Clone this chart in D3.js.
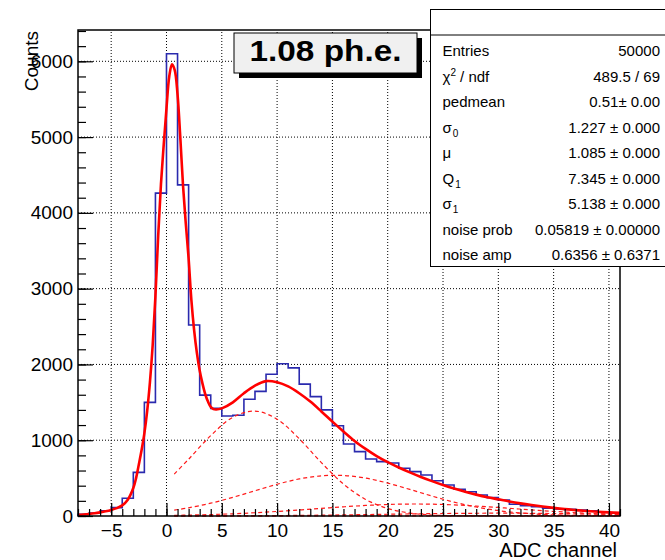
<!DOCTYPE html>
<html>
<head>
<meta charset="utf-8">
<script src="https://cdn.jsdelivr.net/npm/d3@7"></script>
<style>
  body { margin: 0; background: #fff; }
  svg { display: block; font-family: "Liberation Sans", Arial, Helvetica, sans-serif; }
</style>
</head>
<body>
<svg id="canvas" width="665" height="560"></svg>
<script>
var width = 665;
var height = 560;

// histogram: one count per unit bin, first bin starts at -8
var binStart = -8;
var counts = [22, 40, 70, 110, 235, 575, 1500, 4260, 6100, 4370,
              2520, 1595, 1420, 1320, 1330, 1540, 1645, 1870, 2010, 1955,
              1740, 1575, 1400, 1190, 950, 850, 752, 717, 700, 630,
              585, 541, 466, 409, 352, 320, 277, 242, 211, 155,
              137, 123, 102, 92, 88, 79, 70, 50, 36];

// total fit curve
var fitX = [-8, -7.5, -7, -6.5, -6, -5.5, -5, -4.5, -4, -3.5, -3, -2.75, -2.5, -2.25, -2, -1.75, -1.5, -1.25, -1, -0.75,
            -0.5, -0.25, 0, 0.25, 0.5, 0.75, 1, 1.25, 1.5, 1.75, 2, 2.25, 2.5, 2.75, 3, 3.25, 3.5, 3.75, 4, 4.25,
            4.5, 5, 6, 7, 8, 9, 10, 11, 12, 13, 14, 15, 16, 17, 18, 19, 20, 21, 22, 23,
            24, 25, 26, 27, 28, 29, 30, 31, 32, 33, 34, 35, 36, 37, 38, 39, 40, 41];
var fitY = [15, 20, 27, 36, 48, 62, 80, 104, 140, 215, 370, 500, 680, 870, 1090, 1380, 1760, 2250, 2900, 3700,
            4380, 4900, 5380, 5800, 5960, 5880, 5560, 4990, 4350, 3850, 3400, 2850, 2450, 2150, 1920, 1750, 1610, 1510, 1440, 1410,
            1405, 1420, 1500, 1620, 1720, 1780, 1765, 1710, 1620, 1510, 1380, 1245, 1115, 990, 885, 790, 710, 640, 575, 515,
            460, 409, 362, 320, 282, 248, 220, 192, 167, 145, 125, 107, 91, 78, 66, 56, 48, 41];

// n-photoelectron components (dashed)
var compX = [0.7, 2, 4, 6, 8, 10, 12, 14, 16, 18, 20, 22, 24, 26, 28, 30, 32, 34, 36, 38, 40, 41];
var comp1 = [553, 749, 1061, 1303, 1385, 1277, 1020, 705, 422, 219, 99, 39, 13, 4, 1, 0, 0, 0, 0, 0, 0, 0];
var comp2 = [78, 108, 169, 246, 333, 419, 489, 530, 534, 500, 434, 351, 263, 183, 119, 71, 40, 21, 10, 4, 2, 1];
var comp3 = [8, 12, 19, 29, 43, 60, 79, 100, 121, 139, 152, 158, 156, 147, 131, 112, 91, 70, 52, 36, 24, 19];
var comp4 = [1, 1, 2, 3, 4, 6, 8, 11, 15, 19, 23, 27, 31, 34, 36, 37, 36, 34, 31, 27, 23, 21];
var comp5 = [0, 0, 0, 0, 0, 0, 0, 0, 0, 1, 1, 2, 3, 3, 4, 5, 6, 6, 7, 7, 7, 7];

var xMajor = [-5, 0, 5, 10, 15, 20, 25, 30, 35, 40];
var yMajor = [0, 1000, 2000, 3000, 4000, 5000, 6000];

var titleText = "1.08 ph.e.";
var statLabels = ["Entries", "χ2 / ndf", "pedmean", "σ0", "μ", "Q1", "σ1", "noise prob", "noise amp"];
var statValues = ["50000", "489.5 / 69", "0.51± 0.00", "1.227 ± 0.000", "1.085 ± 0.000",
                  "7.345 ± 0.000", "5.138 ± 0.000", "0.05819 ± 0.00000", "0.6356 ± 0.6371"];

var x = d3.scaleLinear().domain([-8, 41]).range([78, 620]);
var y = d3.scaleLinear().domain([0, 6413]).range([516, 30]);

var svg = d3.select("#canvas");

// grid
var grid = svg.append("g")
    .attr("stroke", "#000")
    .attr("stroke-width", 1)
    .attr("stroke-dasharray", "1,2");
grid.selectAll(".gx")
    .data(xMajor)
    .join("line")
    .attr("x1", d => x(d)).attr("x2", d => x(d))
    .attr("y1", y.range()[0]).attr("y2", y.range()[1]);
grid.selectAll(".gy")
    .data(yMajor.filter(d => d > 0))
    .join("line")
    .attr("x1", x.range()[0]).attr("x2", x.range()[1])
    .attr("y1", d => y(d)).attr("y2", d => y(d));

// histogram outline
var histPts = [[binStart, 0]];
counts.forEach((c, i) => histPts.push([binStart + i, c]));
histPts.push([binStart + counts.length, counts[counts.length - 1]]);
histPts.push([binStart + counts.length, 0]);

var stepLine = d3.line()
    .x(d => x(d[0]))
    .y(d => y(d[1]))
    .curve(d3.curveStepAfter);

svg.append("path")
    .attr("d", stepLine(histPts))
    .attr("fill", "none")
    .attr("stroke", "#2a2aae")
    .attr("stroke-width", 1.6);

// fit curves
var smooth = d3.line()
    .x(d => x(d[0]))
    .y(d => y(d[1]))
    .curve(d3.curveCatmullRom.alpha(0.5));

[comp1, comp2, comp3, comp4, comp5].forEach(function(vals) {
    svg.append("path")
        .attr("d", smooth(compX.map((cx, i) => [cx, vals[i]])))
        .attr("fill", "none")
        .attr("stroke", "#ff1a1a")
        .attr("stroke-width", 1.2)
        .attr("stroke-dasharray", "4,3");
});

svg.append("path")
    .attr("d", smooth(fitX.map((fx, i) => [fx, fitY[i]])))
    .attr("fill", "none")
    .attr("stroke", "#ff0000")
    .attr("stroke-width", 2.6);

// axes: ticks point inward
svg.append("g")
    .attr("transform", `translate(${x.range()[0]},0)`)
    .call(d3.axisLeft(y).tickValues(yMajor).tickSize(-15).tickPadding(5).tickFormat(d3.format("d")));
svg.append("g")
    .attr("transform", `translate(${x.range()[0]},0)`)
    .call(d3.axisLeft(y).tickValues(d3.range(0, 6401, 200)).tickSize(-8).tickFormat(""));

svg.append("g")
    .attr("transform", `translate(0,${y.range()[0]})`)
    .call(d3.axisBottom(x).tickValues(xMajor).tickSize(-13).tickPadding(7.5));
svg.append("g")
    .attr("transform", `translate(0,${y.range()[0]})`)
    .call(d3.axisBottom(x).tickValues(d3.range(-8, 42, 1)).tickSize(-7).tickFormat(""));

svg.selectAll(".domain").remove();
svg.selectAll(".tick line").attr("stroke", "#000").attr("stroke-width", 1.2);
svg.selectAll(".tick text")
    .attr("fill", "#000")
    .style("font-size", "19px")
    .style("font-family", "'Liberation Sans', Arial, sans-serif");

// frame
svg.append("rect")
    .attr("x", x.range()[0])
    .attr("y", y.range()[1])
    .attr("width", x.range()[1] - x.range()[0])
    .attr("height", y.range()[0] - y.range()[1])
    .attr("fill", "none")
    .attr("stroke", "#000")
    .attr("stroke-width", 1.5);

// axis titles
svg.append("text")
    .attr("transform", `translate(38,31) rotate(-90)`)
    .attr("text-anchor", "end")
    .style("font-size", "19px")
    .text("Counts");

svg.append("text")
    .attr("x", 617)
    .attr("y", 557)
    .attr("text-anchor", "end")
    .style("font-size", "20px")
    .text("ADC channel");

// title box with shadow
svg.append("rect")
    .attr("x", 239).attr("y", 38)
    .attr("width", 183).attr("height", 40)
    .attr("fill", "#000");
svg.append("rect")
    .attr("x", 234).attr("y", 33)
    .attr("width", 183).attr("height", 40)
    .attr("fill", "#f0f0f0")
    .attr("stroke", "#000")
    .attr("stroke-width", 1);
svg.append("text")
    .attr("x", 325.5)
    .attr("y", 61)
    .attr("text-anchor", "middle")
    .attr("textLength", 152)
    .attr("lengthAdjust", "spacingAndGlyphs")
    .style("font-size", "30px")
    .style("font-weight", "bold")
    .text(titleText);

// stats box
var stats = svg.append("g");
stats.append("rect")
    .attr("x", 430.5).attr("y", 9.5)
    .attr("width", 260).attr("height", 257)
    .attr("fill", "#fff")
    .attr("stroke", "#000")
    .attr("stroke-width", 1);
stats.append("line")
    .attr("x1", 430.5).attr("x2", 690)
    .attr("y1", 35).attr("y2", 35)
    .attr("stroke", "#000")
    .attr("stroke-width", 1);

var rowY = d3.scaleLinear().domain([0, 8]).range([56, 260]);

var lab = stats.selectAll(".slab")
    .data(statLabels)
    .join("text")
    .attr("x", 442.5)
    .attr("y", (d, i) => rowY(i))
    .style("font-size", "15px");

lab.each(function(d) {
    var t = d3.select(this);
    if (d === "χ2 / ndf") {
        t.append("tspan").text("χ");
        t.append("tspan").attr("dy", -6).style("font-size", "10px").text("2");
        t.append("tspan").attr("dy", 6).text(" / ndf");
    } else if (d === "σ0" || d === "Q1" || d === "σ1") {
        t.append("tspan").text(d[0]);
        t.append("tspan").attr("dy", 4).attr("dx", 1).style("font-size", "10px").text(d[1]);
    } else {
        t.text(d);
    }
});

stats.selectAll(".sval")
    .data(statValues)
    .join("text")
    .attr("x", 660)
    .attr("y", (d, i) => rowY(i))
    .attr("text-anchor", "end")
    .style("font-size", "15px")
    .text(d => d);
</script>
</body>
</html>
